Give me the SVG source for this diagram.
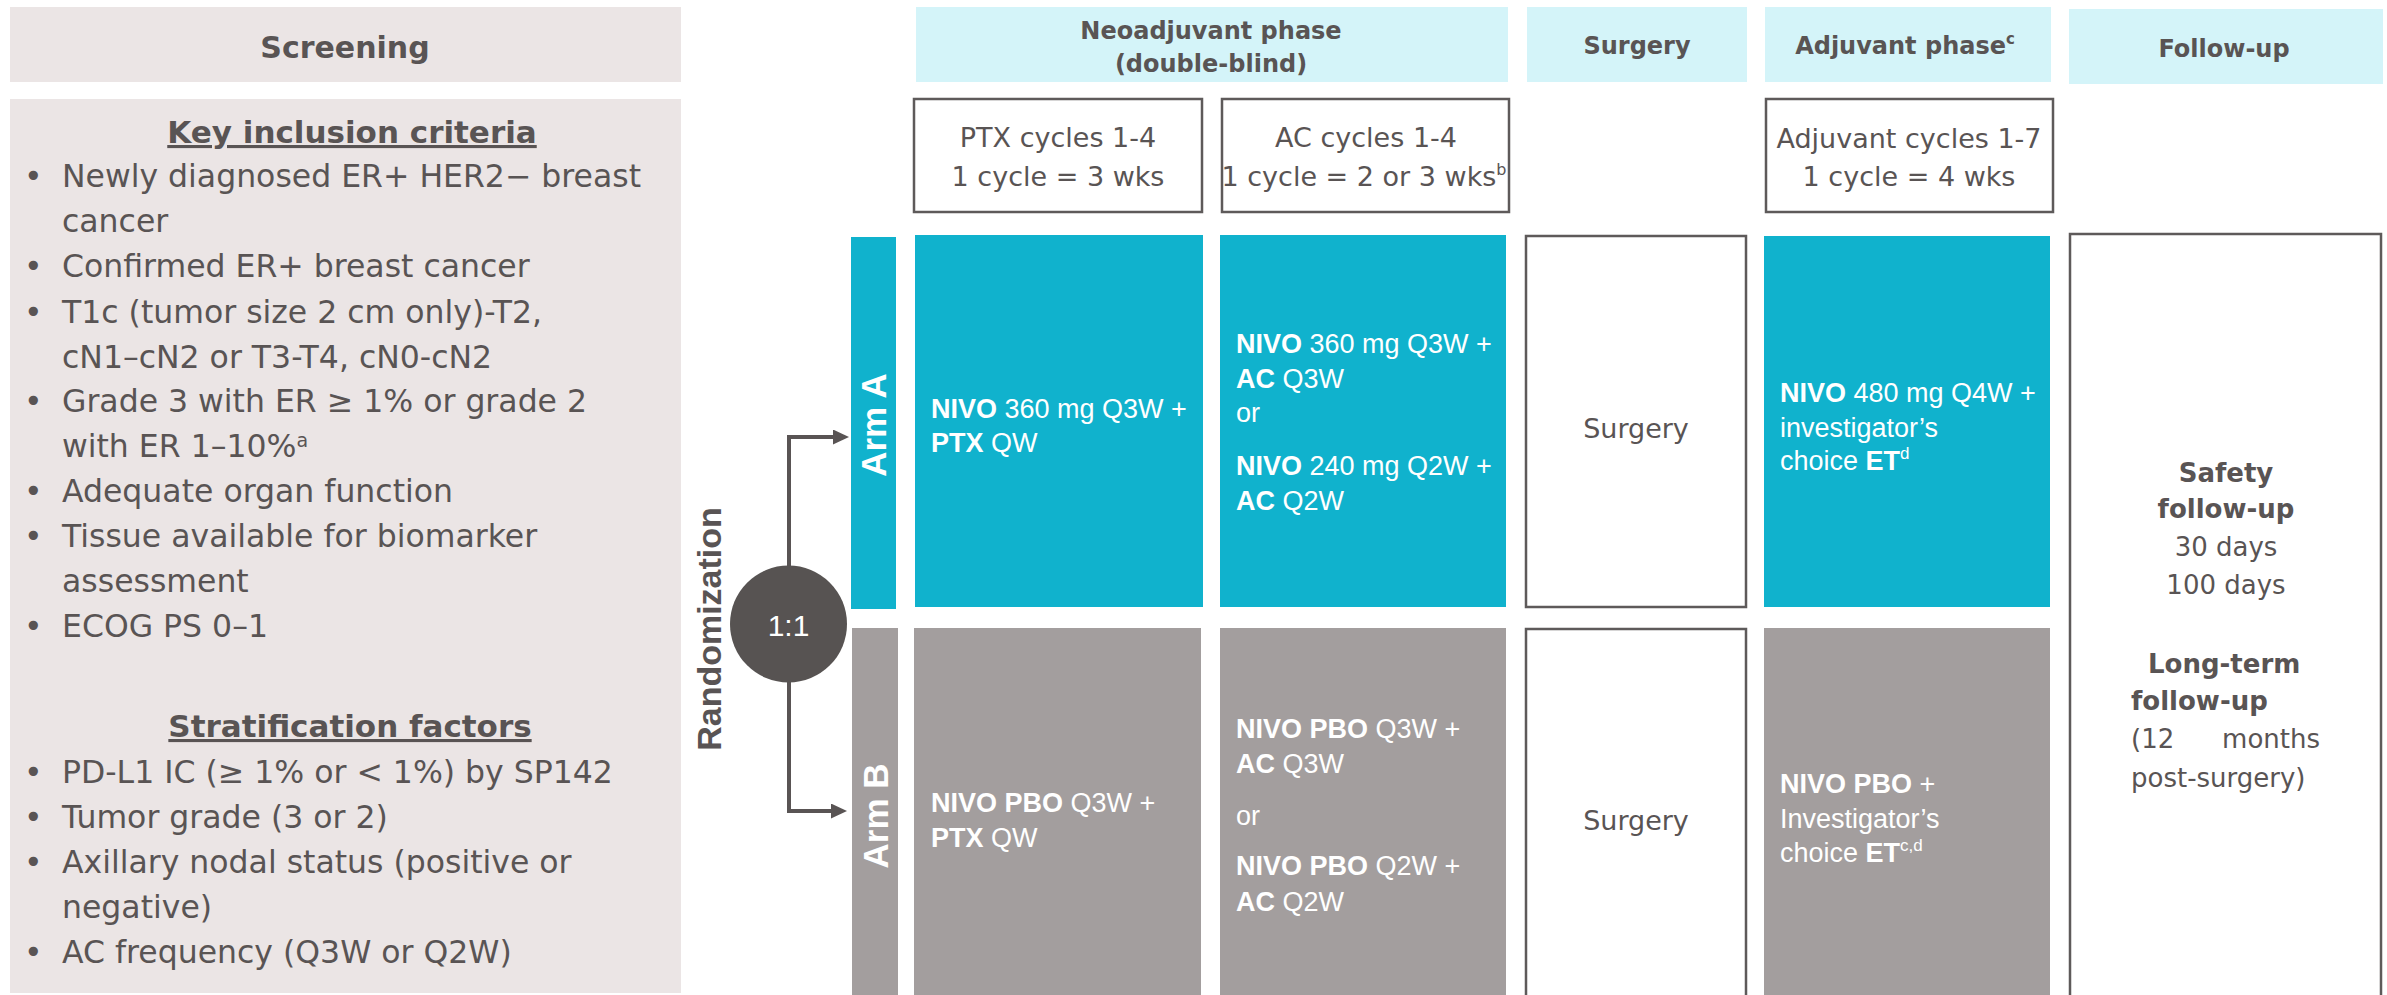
<svg xmlns="http://www.w3.org/2000/svg" width="2387" height="995" viewBox="0 0 2387 995">
<style>
.bg{fill:#ffffff}
.scr{fill:#EBE5E5}
.hdr{fill:#D4F4F9}
.cy{fill:#10B2CD}
.gy{fill:#A39E9E}
.box{fill:#ffffff;stroke:#5E5A5A;stroke-width:2.5}
.t{font-family:"DejaVu Sans","Liberation Sans",Arial,sans-serif;fill:#595454}
.w{font-family:"Liberation Sans",Arial,sans-serif;fill:#ffffff;font-size:27px}
.b{font-weight:bold}
.hd{font-size:24px;font-weight:bold;text-anchor:middle}
.li{font-size:31.5px}
.bx{font-size:27px;text-anchor:middle}
.fu{font-size:26px}
.arm{font-family:"Liberation Sans",Arial,sans-serif;font-weight:bold;font-size:35px;fill:#ffffff;text-anchor:middle}
.con{fill:none;stroke:#595454;stroke-width:4}
</style>
<defs>
<marker id="ah" viewBox="0 0 16 15" refX="8" refY="7.5" markerWidth="16" markerHeight="15" markerUnits="userSpaceOnUse" orient="auto">
<path d="M0,0 L16,7.5 L0,15 z" fill="#595454"/>
</marker>
</defs>
<rect class="bg" x="0" y="0" width="2387" height="995"/>

<g id="header-screening">
<rect class="scr" x="10" y="7" width="671" height="75"/>
<text class="t b" x="345" y="58" font-size="30" text-anchor="middle">Screening</text>
</g>

<g id="panel-criteria">
<rect class="scr" x="10" y="99" width="671" height="894"/>
<text class="t b" x="352" y="143" font-size="31" text-anchor="middle" text-decoration="underline">Key inclusion criteria</text>
<g class="t li">
<text x="24" y="187">•</text><text x="62" y="187">Newly diagnosed ER+ HER2− breast</text>
<text x="62" y="232">cancer</text>
<text x="24" y="277">•</text><text x="62" y="277">Confirmed ER+ breast cancer</text>
<text x="24" y="323">•</text><text x="62" y="323">T1c (tumor size 2 cm only)-T2,</text>
<text x="62" y="368">cN1–cN2 or T3-T4, cN0-cN2</text>
<text x="24" y="412">•</text><text x="62" y="412">Grade 3 with ER ≥ 1% or grade 2</text>
<text x="62" y="457">with ER 1–10%<tspan font-size="19" dy="-10">a</tspan></text>
<text x="24" y="502">•</text><text x="62" y="502">Adequate organ function</text>
<text x="24" y="547">•</text><text x="62" y="547">Tissue available for biomarker</text>
<text x="62" y="592">assessment</text>
<text x="24" y="637">•</text><text x="62" y="637">ECOG PS 0–1</text>
<text x="24" y="783">•</text><text x="62" y="783">PD-L1 IC (≥ 1% or &lt; 1%) by SP142</text>
<text x="24" y="828">•</text><text x="62" y="828">Tumor grade (3 or 2)</text>
<text x="24" y="873">•</text><text x="62" y="873">Axillary nodal status (positive or</text>
<text x="62" y="918">negative)</text>
<text x="24" y="963">•</text><text x="62" y="963">AC frequency (Q3W or Q2W)</text>
</g>
<text class="t b" x="350" y="737" font-size="31" text-anchor="middle" text-decoration="underline">Stratification factors</text>
</g>

<g id="header-neoadjuvant">
<rect class="hdr" x="916" y="7" width="592" height="75"/>
<text class="t hd" x="1211" y="39">Neoadjuvant phase</text>
<text class="t hd" x="1211" y="72">(double-blind)</text>
</g>
<g id="header-surgery">
<rect class="hdr" x="1527" y="7" width="220" height="75"/>
<text class="t hd" x="1637" y="54">Surgery</text>
</g>
<g id="header-adjuvant">
<rect class="hdr" x="1765" y="7" width="286" height="75"/>
<text class="t hd" x="1905" y="54">Adjuvant phase<tspan font-size="15" dy="-10">c</tspan></text>
</g>
<g id="header-followup">
<rect class="hdr" x="2069" y="9" width="314" height="75"/>
<text class="t hd" x="2224" y="57">Follow-up</text>
</g>

<g id="box-ptx-cycles">
<rect class="box" x="914" y="99" width="288" height="113"/>
<text class="t bx" x="1058" y="147">PTX cycles 1-4</text>
<text class="t bx" x="1058" y="186">1 cycle = 3 wks</text>
</g>
<g id="box-ac-cycles">
<rect class="box" x="1222" y="99" width="287" height="113"/>
<text class="t bx" x="1366" y="147">AC cycles 1-4</text>
<text class="t bx" x="1364" y="186" font-size="25.5">1 cycle = 2 or 3 wks<tspan font-size="16" dy="-11">b</tspan></text>
</g>
<g id="box-adjuvant-cycles">
<rect class="box" x="1766" y="99" width="287" height="113"/>
<text class="t bx" x="1909" y="148">Adjuvant cycles 1-7</text>
<text class="t bx" x="1909" y="186">1 cycle = 4 wks</text>
</g>

<g id="label-randomization">
<text class="t b" font-family="Liberation Sans, Arial, sans-serif" font-size="34" text-anchor="middle" transform="translate(721,629) rotate(-90)" style="font-family:'Liberation Sans',Arial,sans-serif">Randomization</text>
</g>

<g id="connectors">
<path class="con" d="M789,566 V437 H841" marker-end="url(#ah)"/>
<path class="con" d="M789,682 V811 H839" marker-end="url(#ah)"/>
</g>

<g id="node-randomize">
<circle cx="788.5" cy="624" r="58.5" fill="#575352"/>
<text x="788.5" y="636" font-family="Liberation Sans, Arial, sans-serif" font-size="30" fill="#ffffff" text-anchor="middle">1:1</text>
</g>

<g id="arm-a-label">
<rect class="cy" x="851" y="237" width="45" height="372"/>
<text class="arm" transform="translate(886,425) rotate(-90)">Arm A</text>
</g>
<g id="arm-a-ptx">
<rect class="cy" x="915" y="235" width="288" height="372"/>
<text class="w" x="931" y="418"><tspan class="b">NIVO</tspan> 360 mg Q3W +</text>
<text class="w" x="931" y="452"><tspan class="b">PTX</tspan> QW</text>
</g>
<g id="arm-a-ac">
<rect class="cy" x="1220" y="235" width="286" height="372"/>
<text class="w" x="1236" y="353"><tspan class="b">NIVO</tspan> 360 mg Q3W +</text>
<text class="w" x="1236" y="388"><tspan class="b">AC</tspan> Q3W</text>
<text class="w" x="1236" y="422">or</text>
<text class="w" x="1236" y="475"><tspan class="b">NIVO</tspan> 240 mg Q2W +</text>
<text class="w" x="1236" y="510"><tspan class="b">AC</tspan> Q2W</text>
</g>
<g id="arm-a-surgery">
<rect class="box" x="1526" y="236" width="220" height="371"/>
<text class="t bx" x="1636" y="438">Surgery</text>
</g>
<g id="arm-a-adjuvant">
<rect class="cy" x="1764" y="236" width="286" height="371"/>
<text class="w" x="1780" y="402"><tspan class="b">NIVO</tspan> 480 mg Q4W +</text>
<text class="w" x="1780" y="437">investigator’s</text>
<text class="w" x="1780" y="470">choice <tspan class="b">ET</tspan><tspan font-size="17" dy="-11">d</tspan></text>
</g>

<g id="followup-cell">
<rect class="box" x="2070" y="234" width="311" height="780"/>
<g class="t fu">
<text class="b" x="2226" y="482" text-anchor="middle">Safety</text>
<text class="b" x="2226" y="518" text-anchor="middle">follow-up</text>
<text x="2226" y="556" text-anchor="middle">30 days</text>
<text x="2226" y="594" text-anchor="middle">100 days</text>
<text class="b" x="2148" y="673">Long-term</text>
<text class="b" x="2131" y="710">follow-up</text>
<text x="2131" y="748">(12</text>
<text x="2320" y="748" text-anchor="end">months</text>
<text x="2131" y="787">post-surgery)</text>
</g>
</g>

<g id="arm-b-label">
<rect class="gy" x="852" y="628" width="46" height="370"/>
<text class="arm" transform="translate(888,816) rotate(-90)">Arm B</text>
</g>
<g id="arm-b-ptx">
<rect class="gy" x="914" y="628" width="287" height="370"/>
<text class="w" x="931" y="812"><tspan class="b">NIVO PBO</tspan> Q3W +</text>
<text class="w" x="931" y="847"><tspan class="b">PTX</tspan> QW</text>
</g>
<g id="arm-b-ac">
<rect class="gy" x="1220" y="628" width="286" height="370"/>
<text class="w" x="1236" y="738"><tspan class="b">NIVO PBO</tspan> Q3W +</text>
<text class="w" x="1236" y="773"><tspan class="b">AC</tspan> Q3W</text>
<text class="w" x="1236" y="825">or</text>
<text class="w" x="1236" y="875"><tspan class="b">NIVO PBO</tspan> Q2W +</text>
<text class="w" x="1236" y="911"><tspan class="b">AC</tspan> Q2W</text>
</g>
<g id="arm-b-surgery">
<rect class="box" x="1526" y="629" width="220" height="380"/>
<text class="t bx" x="1636" y="830">Surgery</text>
</g>
<g id="arm-b-adjuvant">
<rect class="gy" x="1764" y="628" width="286" height="370"/>
<text class="w" x="1780" y="793"><tspan class="b">NIVO PBO</tspan> +</text>
<text class="w" x="1780" y="828">Investigator’s</text>
<text class="w" x="1780" y="862">choice <tspan class="b">ET</tspan><tspan font-size="17" dy="-11">c,d</tspan></text>
</g>
</svg>
